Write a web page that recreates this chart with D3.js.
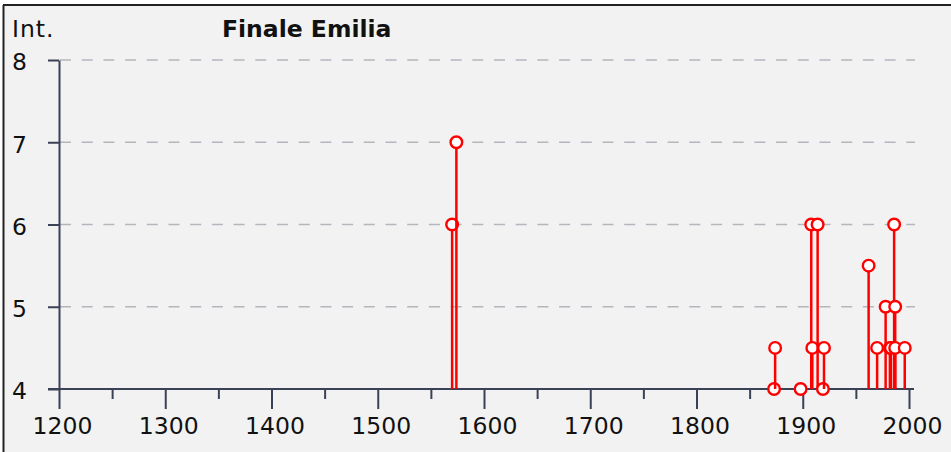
<!DOCTYPE html>
<html>
<head>
<meta charset="utf-8">
<script src="https://cdn.jsdelivr.net/npm/d3@7"></script>
<style>
  body { margin: 0; background: #fff; }
  text { font-family: "DejaVu Sans", Verdana, sans-serif; fill: #111; }
</style>
</head>
<body>
<div id="chart"></div>
<script>
// earthquake years and felt intensity at Finale Emilia
const years = [1570, 1574, 1873, 1874, 1898, 1908, 1909, 1914, 1919, 1920,
               1962, 1970, 1978, 1982, 1983, 1986, 1987, 1987, 1996];
const intensities = [6, 7, 4, 4.5, 4, 6, 4.5, 6, 4, 4.5,
                     5.5, 4.5, 5, 4.5, 4.5, 6, 5, 4.5, 4.5];
const xTicks = [1200, 1300, 1400, 1500, 1600, 1700, 1800, 1900, 2000];
const xMinorTicks = [1250, 1350, 1450, 1550, 1650, 1750, 1850, 1950];
const yTicks = [4, 5, 6, 7, 8];

const width = 951, height = 452;
const axisColor = "#3b4156";
const fontSize = 23.5;

const svg = d3.select("#chart").append("svg")
    .attr("width", width)
    .attr("height", height);

// panel background + frame
svg.append("rect")
    .attr("x", 3).attr("y", 5)
    .attr("width", width - 3).attr("height", height - 5)
    .attr("fill", "#f2f2f2");
svg.append("line")
    .attr("x1", 3).attr("x2", width).attr("y1", 5).attr("y2", 5)
    .attr("stroke", "#222").attr("stroke-width", 2);
svg.append("line")
    .attr("x1", 3.5).attr("x2", 3.5).attr("y1", 5).attr("y2", height)
    .attr("stroke", "#222").attr("stroke-width", 2);

const x = d3.scaleLinear().domain([1200, 2000]).range([59, 909]);
const y = d3.scaleLinear().domain([4, 8]).range([389, 60]);

// dashed grid
svg.append("g")
    .selectAll("line")
    .data(yTicks.filter(d => d > 4))
    .enter().append("line")
    .attr("x1", 60).attr("x2", 915)
    .attr("y1", d => y(d)).attr("y2", d => y(d))
    .attr("stroke", "#b5b6bd")
    .attr("stroke-width", 1.5)
    .attr("stroke-dasharray", "11,10.7");

// x axis
const gx = svg.append("g")
    .attr("transform", `translate(0,${y(4)})`)
    .call(d3.axisBottom(x).tickValues(xTicks).tickSize(20).tickSizeOuter(0).tickFormat(d3.format("d")));
gx.append("g")
    .call(d3.axisBottom(x).tickValues(xMinorTicks).tickSize(10).tickFormat(""))
    .select(".domain").remove();
gx.select(".domain").attr("d", `M48,0H914`);
gx.selectAll("line").attr("stroke", axisColor).attr("stroke-width", 2);
gx.select(".domain").attr("stroke", axisColor).attr("stroke-width", 2);
gx.selectAll(".tick text")
    .attr("y", 28)
    .attr("dx", 3)
    .attr("font-size", fontSize)
    .attr("font-family", "DejaVu Sans, Verdana, sans-serif")
    .attr("fill", "#111");

// y axis
const gy = svg.append("g")
    .attr("transform", `translate(${x(1200)},0)`)
    .call(d3.axisLeft(y).tickValues(yTicks).tickSize(11).tickSizeOuter(0).tickFormat(d3.format("d")));
gy.selectAll("line").attr("stroke", axisColor).attr("stroke-width", 2);
gy.select(".domain").attr("stroke", axisColor).attr("stroke-width", 2);
gy.selectAll(".tick text")
    .attr("x", -47)
    .attr("dy", "0.42em")
    .attr("text-anchor", "start")
    .attr("font-size", fontSize)
    .attr("font-family", "DejaVu Sans, Verdana, sans-serif")
    .attr("fill", "#111");

// labels
svg.append("text")
    .attr("x", 12).attr("y", 37)
    .attr("font-size", fontSize)
    .attr("letter-spacing", 1)
    .text("Int.");
svg.append("text")
    .attr("x", 222).attr("y", 37)
    .attr("font-size", fontSize)
    .attr("font-weight", "bold")
    .text("Finale Emilia");

// stems with circles
const points = years.map((yr, i) => ({ year: yr, int: intensities[i] }));
const pt = svg.append("g").selectAll("g")
    .data(points)
    .enter().append("g");
pt.append("line")
    .attr("x1", d => x(d.year)).attr("x2", d => x(d.year))
    .attr("y1", y(4)).attr("y2", d => y(d.int))
    .attr("stroke", "#ff0000")
    .attr("stroke-width", 2.5);
pt.append("circle")
    .attr("cx", d => x(d.year))
    .attr("cy", d => y(d.int))
    .attr("r", 5.8)
    .attr("fill", "#fff")
    .attr("stroke", "#ff0000")
    .attr("stroke-width", 2.4);
</script>
</body>
</html>
